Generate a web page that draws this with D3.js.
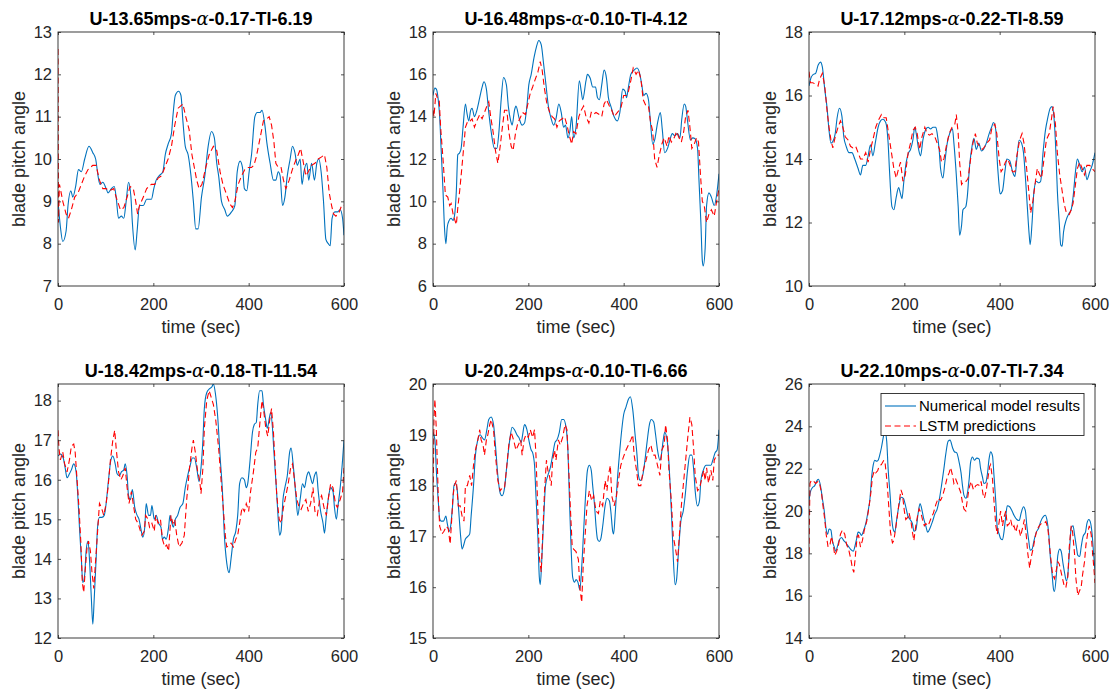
<!DOCTYPE html>
<html>
<head>
<meta charset="utf-8">
<script src="https://cdn.jsdelivr.net/npm/d3@7"></script>
<style>
    body { margin: 0; background: #fff; }
    svg { display: block; font-family: "Liberation Sans", Arial, Helvetica, sans-serif; }
    .tick line { stroke: #262626; stroke-width: 0.8; }
    .tick text { fill: #262626; font-size: 16.5px; }
</style>
</head>
<body>
<div id="chart"></div>
<script>
// blade pitch angle traces, [time (sec), value]
const blue1 = [[0,9.0],[5,8.4],[10,8.05],[17,8.3],[21,8.9],[27,9.25],[31,9.1],[37,9.35],[43,9.75],[49,9.7],[56,10.0],[65,10.3],[73,10.15],[79,10.0],[84,9.6],[88,9.4],[94,9.45],[101,9.3],[105,9.2],[112,9.3],[118,9.35],[122,9.1],[127,8.6],[133,8.65],[138,8.6],[143,9.0],[148,9.45],[153,9.1],[156,8.5],[162,7.85],[166,8.3],[171,8.9],[179,8.9],[186,9.05],[196,9.05],[201,9.3],[206,9.5],[212,9.6],[220,9.7],[225,10.1],[231,10.35],[238,10.6],[241,11.0],[246,11.5],[253,11.6],[258,11.5],[262,10.9],[267,10.3],[273,10.1],[279,9.6],[284,9.0],[289,8.35],[294,8.35],[301,9.1],[308,9.6],[315,10.3],[322,10.65],[328,10.5],[333,9.9],[337,9.6],[343,9.0],[350,8.8],[355,8.65],[364,8.75],[371,8.9],[376,9.7],[382,9.95],[387,9.8],[391,9.3],[396,9.25],[401,9.7],[406,10.1],[413,11.0],[418,11.1],[424,11.1],[428,11.15],[434,10.8],[438,10.4],[445,9.9],[452,9.5],[457,9.5],[462,9.7],[466,9.6],[471,8.9],[476,9.1],[481,9.6],[487,10.0],[492,10.3],[497,10.15],[502,9.85],[508,10.0],[512,9.4],[516,9.7],[522,9.9],[526,9.5],[532,9.9],[538,9.5],[543,9.9],[547,10.0],[552,9.7],[557,9.0],[562,8.1],[567,8.0],[571,7.95],[575,8.6],[581,8.75],[586,8.75],[592,8.8],[597,8.6],[600,8.2]];
const red1 = [[0,12.6],[1,8.5],[3,9.4],[5,9.3],[10,9.0],[17,8.7],[22,8.6],[28,8.8],[35,9.1],[42,9.2],[49,9.4],[56,9.6],[63,9.75],[73,9.85],[80,9.85],[87,9.5],[94,9.3],[101,9.3],[108,9.25],[117,9.3],[122,9.1],[131,8.8],[138,8.85],[145,9.1],[151,9.35],[158,9.3],[163,9.0],[167,8.7],[171,8.9],[179,9.1],[186,9.3],[196,9.4],[203,9.4],[210,9.55],[217,9.6],[224,9.8],[231,10.0],[238,10.3],[245,10.8],[252,11.2],[262,11.3],[268,11.0],[275,10.7],[281,10.1],[291,9.5],[296,9.3],[302,9.4],[310,9.8],[317,10.1],[326,10.3],[333,10.2],[340,9.7],[346,9.4],[354,9.15],[360,8.95],[366,8.85],[371,9.0],[378,9.4],[385,9.6],[392,9.75],[399,9.8],[406,9.8],[411,9.85],[416,10.05],[424,10.5],[431,10.9],[438,10.95],[443,11.0],[448,10.8],[453,10.4],[457,9.9],[462,9.8],[468,9.8],[473,9.5],[478,9.3],[485,9.5],[493,9.8],[500,10.0],[504,10.1],[509,10.25],[515,9.9],[520,9.6],[525,9.7],[532,9.85],[539,9.9],[546,10.0],[553,10.05],[559,10.1],[564,9.8],[569,9.2],[574,8.9],[578,8.7],[583,8.65],[590,8.75],[595,8.9],[600,8.9]];

const blue2 = [[0,15.0],[4,15.35],[7,15.3],[11,14.8],[14,14.0],[17,12.5],[21,10.5],[24,8.8],[27,8.0],[30,8.8],[34,9.1],[38,9.2],[42,9.1],[45,9.3],[49,10.5],[52,12.2],[56,12.3],[59,12.5],[63,13.5],[68,14.6],[71,14.2],[75,13.8],[79,14.3],[82,14.4],[87,14.0],[92,14.3],[98,14.9],[103,15.4],[107,15.65],[112,15.3],[117,14.2],[122,13.3],[129,12.5],[134,12.5],[138,13.2],[143,14.8],[148,15.85],[154,15.5],[158,14.5],[163,13.8],[166,13.6],[171,14.3],[174,14.5],[181,13.9],[187,13.6],[192,13.7],[197,14.5],[201,15.5],[206,16.0],[212,16.8],[217,17.3],[222,17.6],[227,17.4],[232,16.5],[237,15.5],[242,14.5],[248,13.9],[253,13.6],[258,13.9],[264,14.6],[269,14.2],[274,13.5],[278,13.6],[283,13.0],[287,13.3],[291,14.0],[295,13.0],[300,13.5],[307,15.7],[311,15.2],[314,14.8],[321,15.7],[324,16.0],[330,15.8],[335,15.4],[341,15.4],[345,14.9],[349,14.8],[354,15.5],[359,16.2],[364,15.8],[368,14.9],[373,14.5],[380,14.0],[387,13.8],[392,14.2],[398,15.3],[403,15.2],[406,14.9],[410,15.4],[415,16.0],[422,16.2],[428,16.3],[434,16.0],[438,15.5],[442,15.0],[447,15.1],[452,14.8],[456,13.8],[461,12.7],[465,12.9],[471,13.7],[477,14.2],[481,13.4],[486,12.3],[492,12.5],[497,12.9],[502,13.2],[507,13.1],[513,13.2],[518,13.0],[522,13.9],[527,14.6],[530,14.5],[534,13.8],[540,12.9],[545,13.0],[550,12.95],[555,12.5],[558,11.0],[562,9.0],[565,7.2],[567,6.95],[571,7.8],[574,9.8],[579,10.4],[584,10.2],[590,9.8],[595,10.3],[600,11.3]];
const red2 = [[0,14.3],[2,14.0],[6,15.1],[9,14.9],[13,14.8],[16,13.5],[21,12.0],[26,10.3],[31,10.2],[35,9.8],[38,9.9],[43,9.3],[49,8.9],[52,9.7],[56,10.5],[61,11.7],[65,12.7],[68,13.5],[73,13.8],[78,13.8],[82,13.9],[87,13.5],[92,13.8],[98,14.1],[103,13.9],[108,14.2],[113,14.5],[117,14.7],[121,14.0],[126,13.3],[131,12.4],[136,11.8],[141,12.6],[145,13.4],[150,14.3],[155,14.3],[159,13.3],[164,12.6],[168,12.4],[173,13.2],[178,13.7],[184,14.0],[188,14.2],[194,14.1],[199,14.6],[204,15.1],[209,15.4],[215,15.8],[220,16.1],[225,16.6],[229,16.2],[234,15.3],[239,14.6],[245,14.2],[250,14.0],[255,13.9],[260,13.5],[265,13.8],[271,13.9],[276,14.0],[281,13.6],[286,13.1],[291,12.7],[295,13.3],[300,13.2],[306,14.0],[311,14.3],[316,14.5],[321,14.0],[327,13.7],[332,14.2],[336,14.1],[342,14.2],[349,14.1],[354,14.0],[359,14.6],[364,14.8],[370,14.5],[375,14.3],[380,14.0],[387,14.2],[394,14.4],[400,15.0],[405,15.0],[410,15.2],[415,15.7],[420,16.3],[426,16.0],[431,16.2],[436,15.8],[441,14.8],[447,14.5],[452,14.5],[456,13.8],[461,13.3],[465,12.0],[470,11.6],[474,12.1],[480,12.7],[485,13.0],[491,12.6],[495,13.1],[500,12.8],[506,13.0],[511,13.3],[516,13.0],[521,12.8],[526,13.3],[530,14.0],[535,14.3],[539,13.5],[543,12.5],[548,12.7],[553,13.0],[557,12.8],[561,11.3],[565,10.0],[569,9.8],[574,9.0],[579,9.4],[584,9.6],[590,9.3],[595,10.0],[600,10.6]];

const blue3 = [[0,16.3],[4,16.55],[8,16.65],[14,16.7],[19,16.95],[24,17.05],[28,16.9],[33,16.2],[38,15.6],[42,14.9],[46,14.5],[50,14.55],[55,14.8],[59,15.3],[64,15.6],[69,15.35],[73,14.7],[78,14.4],[84,14.2],[90,14.2],[96,14.0],[103,13.7],[108,13.5],[113,13.8],[119,13.8],[124,14.1],[129,14.45],[134,14.1],[139,14.5],[145,15.0],[150,15.2],[155,15.25],[161,15.15],[166,14.5],[169,13.6],[174,12.5],[178,12.4],[183,12.8],[188,13.1],[192,12.9],[195,12.75],[199,13.3],[204,13.9],[209,14.2],[213,14.3],[218,14.6],[222,15.0],[225,14.8],[230,14.3],[234,14.1],[239,14.6],[244,14.9],[250,15.0],[255,14.95],[260,15.0],[266,15.0],[269,14.8],[273,14.3],[276,13.7],[281,13.4],[285,13.9],[290,14.5],[295,14.8],[301,14.95],[304,14.5],[309,13.5],[313,12.5],[316,11.6],[320,11.9],[323,12.4],[329,12.5],[332,12.8],[337,13.8],[342,14.4],[346,14.65],[351,14.3],[356,14.5],[362,14.25],[366,14.3],[372,14.5],[378,14.8],[383,15.0],[387,15.15],[392,14.9],[394,14.2],[398,13.3],[401,12.9],[406,13.0],[411,13.6],[415,14.0],[421,13.95],[427,13.6],[432,13.45],[436,14.0],[441,14.6],[446,14.5],[450,14.2],[455,13.2],[458,12.5],[462,11.6],[464,11.3],[468,12.0],[472,13.0],[477,13.3],[482,13.25],[486,13.3],[491,14.2],[496,14.9],[501,15.3],[506,15.6],[510,15.65],[514,15.3],[518,14.2],[521,13.0],[525,12.0],[528,11.3],[531,11.25],[534,11.7],[540,12.1],[546,12.3],[550,12.4],[554,12.8],[559,13.6],[563,14.0],[568,13.8],[573,13.6],[578,13.75],[583,13.35],[589,13.6],[594,13.8],[600,14.2]];
const red3 = [[0,16.75],[3,16.4],[8,16.4],[15,16.35],[19,16.3],[22,16.5],[28,16.7],[33,16.3],[38,15.5],[42,15.0],[46,14.6],[50,14.35],[55,14.7],[61,15.0],[66,15.2],[71,15.0],[76,14.7],[82,14.6],[87,14.4],[92,14.35],[98,14.4],[103,14.2],[108,14.0],[113,14.0],[119,14.2],[124,13.9],[129,14.3],[134,14.6],[140,15.0],[145,15.2],[152,15.4],[157,15.3],[162,15.3],[167,14.8],[173,14.2],[178,13.7],[183,13.4],[188,13.7],[192,13.9],[197,13.3],[202,13.5],[208,14.2],[213,14.5],[218,14.9],[223,15.0],[227,14.8],[232,14.3],[237,14.7],[243,15.0],[248,14.8],[253,14.75],[258,14.8],[264,14.7],[269,14.5],[274,14.3],[278,13.9],[283,14.0],[288,14.4],[294,14.8],[300,15.0],[306,15.1],[309,15.4],[313,14.8],[316,13.9],[320,13.2],[325,13.3],[330,13.3],[334,13.4],[339,14.0],[344,14.5],[349,14.8],[353,14.5],[358,14.4],[364,14.3],[369,14.4],[373,14.5],[379,14.6],[384,15.0],[390,15.1],[394,14.8],[399,14.0],[403,13.6],[407,13.7],[412,13.9],[417,14.0],[422,13.8],[427,13.6],[432,13.6],[436,14.1],[442,14.6],[447,14.8],[451,14.5],[456,13.8],[461,13.0],[465,12.3],[470,12.7],[475,13.3],[479,13.7],[484,13.5],[488,13.4],[493,14.0],[498,14.6],[504,14.8],[509,15.3],[512,15.65],[517,15.1],[521,14.2],[526,13.5],[531,13.0],[535,12.6],[540,12.3],[546,12.25],[550,12.4],[554,12.6],[559,13.2],[563,13.7],[568,13.9],[573,13.7],[578,13.5],[583,13.8],[589,13.8],[594,13.7],[600,13.6]];

const blue4 = [[0,16.6],[5,16.65],[11,16.55],[15,16.3],[19,16.05],[24,16.15],[28,16.25],[33,16.4],[38,16.2],[42,15.5],[45,14.8],[49,14.0],[52,13.4],[56,13.6],[59,14.2],[63,14.45],[66,14.0],[70,13.0],[73,12.35],[76,13.0],[80,14.0],[83,14.8],[87,15.05],[92,15.05],[97,15.1],[101,15.4],[106,16.0],[111,16.5],[115,16.6],[120,16.4],[124,16.15],[129,16.1],[133,16.2],[138,16.25],[141,16.4],[145,16.1],[148,15.6],[152,15.5],[156,15.75],[161,15.3],[166,15.1],[170,15.0],[174,14.75],[178,14.55],[182,14.8],[185,15.4],[190,15.1],[194,15.1],[197,15.35],[202,15.0],[206,15.1],[211,14.9],[216,14.8],[219,14.5],[223,14.55],[227,14.5],[232,14.8],[235,15.1],[239,14.9],[242,14.8],[246,15.0],[251,15.1],[256,15.3],[262,15.4],[267,15.8],[272,16.1],[277,16.35],[282,16.55],[286,16.55],[291,16.3],[296,15.95],[300,16.3],[304,17.0],[307,17.8],[312,18.2],[318,18.3],[323,18.35],[326,18.42],[330,18.2],[335,17.6],[340,16.6],[345,15.7],[349,14.6],[354,13.9],[359,13.65],[363,14.0],[368,14.5],[373,14.7],[377,15.1],[381,15.9],[386,16.05],[391,16.0],[395,15.8],[398,15.9],[403,16.5],[408,17.2],[412,17.4],[416,17.45],[419,17.9],[423,18.25],[428,18.25],[431,17.9],[436,17.5],[439,17.3],[444,17.6],[446,17.7],[450,17.3],[453,16.7],[458,15.8],[461,15.2],[465,14.6],[468,14.7],[472,15.5],[476,15.8],[481,16.1],[486,16.7],[489,16.8],[494,16.3],[499,15.6],[503,15.1],[508,15.5],[513,15.9],[517,15.8],[522,16.1],[526,16.2],[529,16.1],[534,15.9],[538,16.1],[542,16.2],[546,15.7],[551,15.2],[556,14.9],[559,14.65],[563,15.1],[568,15.6],[572,15.8],[577,15.7],[580,15.3],[584,15.0],[587,15.3],[592,15.8],[597,16.5],[600,17.0]];
const red4 = [[0,17.25],[2,16.8],[5,16.5],[10,16.7],[14,16.4],[19,16.2],[24,16.5],[28,16.85],[33,16.9],[36,16.7],[40,16.0],[44,15.3],[48,14.4],[51,13.4],[54,13.15],[57,13.7],[61,14.3],[64,14.45],[68,14.2],[71,13.7],[75,13.25],[78,13.8],[82,14.5],[87,15.4],[91,15.3],[96,15.1],[101,15.4],[105,15.8],[110,16.5],[115,17.0],[119,17.25],[122,16.8],[127,16.2],[132,16.0],[136,16.1],[141,16.3],[145,15.8],[149,15.4],[154,15.7],[159,15.3],[163,15.0],[168,14.9],[173,14.7],[176,14.6],[181,14.7],[184,15.1],[189,15.0],[192,14.8],[197,14.9],[202,14.7],[205,15.1],[210,14.9],[215,15.0],[219,14.5],[224,14.3],[228,14.35],[232,14.2],[237,15.1],[241,14.9],[245,15.0],[249,14.6],[254,14.3],[260,14.4],[265,14.6],[270,15.5],[276,16.3],[281,16.8],[284,17.0],[288,16.7],[293,16.2],[297,16.0],[300,15.65],[304,16.3],[307,17.3],[312,18.0],[317,18.25],[321,18.1],[326,17.9],[331,17.5],[337,16.8],[342,16.0],[346,15.4],[351,14.6],[354,14.3],[359,14.35],[363,14.4],[368,14.3],[373,14.5],[377,14.6],[381,14.9],[386,15.3],[391,15.2],[395,15.4],[400,15.2],[404,15.7],[410,16.2],[415,16.7],[419,16.8],[424,17.5],[428,18.0],[431,17.8],[436,17.3],[440,17.1],[444,17.5],[448,17.8],[452,17.2],[455,16.5],[459,15.6],[464,15.0],[468,14.9],[473,15.3],[478,15.6],[483,15.9],[488,16.3],[492,16.4],[496,16.0],[501,15.5],[506,15.3],[510,15.25],[515,15.4],[520,15.5],[525,15.2],[530,15.4],[535,15.8],[539,15.2],[544,15.1],[549,15.5],[553,15.6],[558,15.3],[563,15.1],[568,15.6],[572,15.9],[577,15.8],[582,15.4],[586,15.3],[592,15.5],[597,15.7],[600,16.3]];

const blue5 = [[0,19.05],[4,18.9],[7,18.3],[11,17.7],[14,17.35],[17,17.3],[22,17.3],[27,17.4],[30,17.25],[34,17.1],[37,17.2],[41,17.6],[44,18.0],[47,18.05],[51,17.9],[54,17.5],[58,17.0],[61,16.75],[65,16.85],[68,16.95],[73,17.0],[77,17.05],[80,17.4],[85,18.0],[89,18.6],[94,18.9],[99,19.0],[103,18.95],[108,18.9],[113,19.1],[117,19.3],[122,19.35],[127,19.2],[131,18.8],[136,18.2],[141,17.85],[145,17.8],[150,17.95],[155,18.4],[161,18.9],[166,19.15],[171,19.1],[176,19.0],[180,18.95],[185,18.85],[188,19.0],[192,19.2],[197,19.1],[201,18.9],[206,18.7],[209,18.65],[213,18.4],[216,17.8],[220,17.0],[223,16.2],[225,16.05],[228,16.5],[232,17.3],[236,18.0],[241,18.2],[246,18.35],[251,18.6],[256,18.85],[260,18.9],[265,19.05],[270,19.3],[274,19.3],[279,19.15],[283,18.7],[286,17.8],[290,16.7],[293,16.2],[297,16.1],[300,16.15],[304,16.1],[308,15.95],[312,16.4],[316,17.1],[320,17.8],[324,18.3],[328,18.4],[332,18.3],[335,18.0],[339,17.6],[342,17.2],[345,16.95],[349,16.9],[352,16.95],[356,17.2],[361,17.6],[365,17.75],[370,17.7],[373,17.5],[377,17.1],[379,17.05],[382,17.4],[386,18.0],[391,18.6],[396,19.1],[400,19.4],[405,19.55],[410,19.7],[414,19.75],[419,19.5],[424,19.0],[428,18.6],[431,18.2],[435,18.1],[440,18.2],[444,18.45],[449,18.85],[454,19.2],[458,19.3],[463,19.25],[467,19.0],[471,18.7],[476,18.5],[479,18.6],[483,18.9],[486,19.05],[491,18.9],[494,18.6],[497,18.1],[501,17.3],[504,16.6],[508,16.05],[511,16.15],[515,16.7],[520,17.3],[525,17.5],[529,17.8],[534,18.3],[539,18.6],[543,18.6],[547,18.3],[550,17.9],[555,17.6],[559,17.7],[562,18.1],[567,18.3],[573,18.4],[578,18.4],[583,18.4],[587,18.5],[592,18.65],[596,18.7],[600,19.1]];
const red5 = [[0,17.5],[2,19.3],[4,19.7],[7,19.1],[11,17.8],[14,17.2],[19,17.05],[23,17.1],[28,17.2],[32,17.15],[36,16.85],[39,17.3],[42,17.8],[45,18.0],[49,18.1],[53,17.6],[57,17.6],[61,17.4],[65,17.3],[68,18.0],[72,18.0],[77,18.2],[81,18.0],[85,18.4],[89,18.7],[94,18.9],[98,19.1],[101,18.9],[105,18.8],[108,18.6],[112,18.9],[115,19.0],[119,19.2],[122,19.3],[127,19.1],[131,18.6],[136,18.1],[141,17.9],[145,17.95],[150,17.95],[155,18.4],[159,18.8],[164,19.05],[169,18.9],[174,18.7],[179,18.8],[184,18.9],[187,18.6],[191,18.9],[195,19.0],[200,18.95],[204,19.1],[209,18.95],[213,19.1],[216,18.6],[220,17.5],[223,16.6],[227,16.3],[230,17.0],[234,17.9],[238,18.5],[241,18.3],[244,18.2],[248,18.0],[251,18.5],[255,18.7],[258,18.5],[263,18.9],[267,18.8],[272,18.95],[277,19.2],[281,19.1],[284,18.5],[288,17.6],[292,16.8],[295,16.75],[300,16.7],[305,16.55],[308,16.0],[312,15.7],[315,16.4],[319,17.0],[323,17.6],[328,17.9],[333,17.7],[337,17.8],[342,17.5],[347,17.45],[351,17.7],[356,17.6],[361,18.1],[365,17.9],[368,18.2],[372,18.4],[375,17.8],[380,17.6],[385,17.8],[389,18.1],[394,18.4],[399,18.55],[405,18.7],[410,18.8],[415,18.9],[419,19.0],[422,18.6],[427,18.3],[431,18.0],[436,18.0],[441,18.3],[447,18.5],[452,18.7],[457,18.8],[462,18.6],[466,18.6],[471,18.4],[476,18.2],[480,18.7],[485,18.8],[488,19.2],[492,18.9],[495,18.3],[500,17.7],[504,17.0],[508,16.8],[513,16.5],[516,16.9],[521,17.6],[526,18.1],[530,18.5],[535,19.0],[539,19.35],[543,19.2],[547,18.7],[550,18.2],[555,17.9],[559,17.95],[563,18.1],[568,18.3],[571,18.1],[574,18.35],[578,18.05],[583,18.3],[587,18.1],[590,18.5],[595,18.6],[600,18.6]];

const blue6 = [[0,20.5],[3,20.9],[7,21.1],[12,21.2],[17,21.45],[20,21.5],[24,21.2],[28,20.6],[32,20.0],[35,19.3],[39,18.9],[42,19.15],[46,19.1],[49,18.6],[53,18.3],[56,18.1],[60,18.35],[63,18.6],[68,18.75],[73,18.6],[77,18.5],[82,18.35],[87,18.2],[93,18.1],[96,18.3],[100,18.7],[103,19.0],[107,18.95],[110,18.85],[115,19.1],[119,19.4],[124,20.0],[128,20.6],[131,21.5],[135,22.2],[138,22.4],[142,22.35],[145,22.4],[149,22.7],[152,23.0],[156,23.5],[159,23.8],[163,23.3],[166,22.0],[170,20.8],[173,19.8],[177,19.1],[180,19.0],[184,19.6],[189,20.3],[193,20.65],[198,20.6],[203,20.2],[207,19.8],[212,19.6],[217,19.4],[220,19.05],[224,19.1],[229,19.9],[233,20.35],[236,20.15],[240,19.7],[245,19.3],[249,19.0],[254,19.2],[259,19.5],[264,19.85],[269,20.1],[273,20.5],[278,21.2],[283,22.0],[287,22.7],[292,23.3],[296,23.35],[301,23.0],[305,22.8],[310,22.75],[315,22.3],[319,21.8],[322,21.2],[325,20.75],[329,20.6],[332,20.8],[336,21.5],[339,22.3],[343,22.55],[347,22.4],[352,22.5],[357,22.45],[360,22.0],[364,21.6],[367,21.3],[371,21.35],[374,21.7],[378,22.5],[381,22.8],[385,22.6],[388,21.7],[392,20.4],[395,19.2],[399,18.9],[402,18.7],[406,18.65],[409,19.0],[413,19.8],[416,20.25],[421,20.2],[426,20.0],[430,19.8],[436,19.6],[441,19.55],[445,19.9],[450,20.2],[454,20.0],[457,19.3],[461,18.6],[464,18.15],[468,18.2],[472,18.6],[477,19.0],[482,19.2],[486,19.5],[492,19.75],[496,19.8],[499,19.6],[503,18.9],[506,17.9],[510,17.0],[513,16.3],[515,16.2],[519,17.0],[522,17.9],[526,18.2],[529,18.1],[533,17.5],[536,17.1],[540,16.7],[543,17.0],[547,18.3],[550,19.2],[554,19.3],[557,18.9],[561,18.3],[564,17.9],[568,17.85],[571,18.3],[575,18.8],[580,19.0],[583,19.4],[587,19.6],[590,19.5],[594,18.9],[597,18.0],[600,17.2]];
const red6 = [[0,18.0],[2,21.3],[5,21.45],[10,21.4],[14,21.3],[19,21.4],[22,21.3],[26,20.9],[29,20.3],[33,19.6],[36,18.9],[40,18.3],[44,18.4],[47,18.8],[51,18.4],[54,17.9],[58,18.1],[61,18.3],[66,18.9],[70,19.1],[75,18.9],[79,18.4],[83,18.2],[88,17.7],[91,17.3],[94,17.1],[97,17.8],[101,18.8],[104,18.85],[108,18.3],[112,18.6],[116,19.1],[121,19.5],[126,20.2],[130,20.9],[133,21.6],[137,21.9],[140,21.8],[144,21.9],[147,22.1],[152,22.2],[157,22.4],[160,22.2],[164,21.3],[168,20.0],[171,19.0],[175,18.5],[178,18.6],[182,19.2],[185,19.7],[189,20.4],[193,21.0],[196,20.8],[200,20.0],[203,19.6],[207,19.7],[210,19.9],[214,19.5],[217,19.0],[220,18.6],[224,19.3],[228,19.8],[231,20.1],[235,19.9],[238,19.6],[242,19.3],[245,19.4],[250,19.3],[255,19.6],[261,19.9],[266,20.3],[271,20.6],[276,20.5],[280,20.7],[285,21.1],[290,21.6],[294,21.8],[297,22.05],[301,21.7],[304,21.3],[308,21.5],[313,21.2],[318,20.9],[322,20.4],[325,20.1],[329,20.0],[332,20.5],[336,21.1],[340,21.4],[345,21.0],[350,21.2],[354,21.25],[358,21.2],[361,21.4],[365,20.8],[368,20.6],[372,21.0],[375,21.5],[379,22.1],[381,22.2],[385,21.5],[388,20.5],[392,19.3],[395,18.9],[399,19.5],[402,20.0],[406,19.3],[409,19.7],[413,20.0],[416,19.3],[420,19.4],[423,19.6],[427,19.2],[430,19.3],[434,19.0],[437,19.3],[441,19.1],[444,18.8],[449,19.3],[452,19.6],[456,18.8],[459,18.0],[463,17.3],[466,17.8],[470,18.2],[474,18.7],[478,19.1],[483,19.3],[487,19.4],[492,19.4],[497,19.5],[501,19.2],[504,18.5],[508,17.6],[511,17.0],[515,16.8],[518,17.1],[522,17.6],[525,17.5],[529,17.1],[532,16.8],[536,16.4],[539,16.4],[543,16.9],[546,18.3],[550,19.3],[553,19.0],[557,18.0],[560,16.8],[564,16.0],[567,16.2],[571,16.4],[574,17.0],[578,17.6],[581,18.4],[585,19.0],[588,19.3],[592,18.9],[595,18.0],[598,17.2],[600,16.6]];

const titles = [
    'U-13.65mps-α-0.17-TI-6.19',
    'U-16.48mps-α-0.10-TI-4.12',
    'U-17.12mps-α-0.22-TI-8.59',
    'U-18.42mps-α-0.18-TI-11.54',
    'U-20.24mps-α-0.10-TI-6.66',
    'U-22.10mps-α-0.07-TI-7.34'
];
const yDomains = [[7, 13], [6, 18], [10, 18], [12, 18.42], [15, 20], [14, 26]];
const yTicks = [
    [7, 8, 9, 10, 11, 12, 13],
    [6, 8, 10, 12, 14, 16, 18],
    [10, 12, 14, 16, 18],
    [12, 13, 14, 15, 16, 17, 18],
    [15, 16, 17, 18, 19, 20],
    [14, 16, 18, 20, 22, 24, 26]
];
const xTicks = [0, 200, 400, 600];
const legendLabels = ['Numerical model results', 'LSTM predictions'];

const blueSeries = [blue1, blue2, blue3, blue4, blue5, blue6];
const redSeries = [red1, red2, red3, red4, red5, red6];

const BLUE = '#0072BD';
const RED = '#FF0000';
const AXIS = '#262626';

function drawChart() {
    const svg = d3.select('#chart').append('svg')
        .attr('width', 1113)
        .attr('height', 690);

    const colLeft = [58, 433, 809];
    const rowTop = [32, 384];
    const pw = 286, ph = 254;
    const fmt = d3.format('d');

    titles.forEach((title, i) => {
        const col = i % 3, row = Math.floor(i / 3);
        const g = svg.append('g')
            .attr('transform', `translate(${colLeft[col]},${rowTop[row]})`);

        const x = d3.scaleLinear().domain([0, 600]).range([0, pw]);
        const y = d3.scaleLinear().domain(yDomains[i]).range([ph, 0]);

        // clip so traces stay inside the box
        svg.append('clipPath').attr('id', `clip${i}`)
            .append('rect').attr('width', pw).attr('height', ph);

        const lines = g.append('g').attr('clip-path', `url(#clip${i})`);

        lines.append('path')
            .datum(blueSeries[i])
            .attr('fill', 'none')
            .attr('stroke', BLUE)
            .attr('stroke-width', 1.1)
            .attr('d', d3.line().x(d => x(d[0])).y(d => y(d[1])).curve(d3.curveMonotoneX));

        lines.append('path')
            .datum(redSeries[i])
            .attr('fill', 'none')
            .attr('stroke', RED)
            .attr('stroke-width', 1.1)
            .attr('stroke-dasharray', '6,3.5')
            .attr('d', d3.line().x(d => x(d[0])).y(d => y(d[1])));

        // axes, ticks pointing inward on all four sides
        g.append('g').attr('transform', `translate(0,${ph})`)
            .call(d3.axisBottom(x).tickValues(xTicks).tickFormat(fmt).tickSize(-3).tickPadding(12));
        g.append('g')
            .call(d3.axisTop(x).tickValues(xTicks).tickSize(-3).tickFormat(''));
        g.append('g')
            .call(d3.axisLeft(y).tickValues(yTicks[i]).tickFormat(fmt).tickSize(-3).tickPadding(6));
        g.append('g').attr('transform', `translate(${pw},0)`)
            .call(d3.axisRight(y).tickValues(yTicks[i]).tickSize(-3).tickFormat(''));
        g.selectAll('.domain').remove();

        g.append('rect')
            .attr('width', pw).attr('height', ph)
            .attr('fill', 'none')
            .attr('stroke', AXIS)
            .attr('stroke-width', 0.9);

        // title with TeX-style alpha
        const parts = title.split('α');
        const t = g.append('text')
            .attr('x', pw / 2).attr('y', -7.5)
            .attr('text-anchor', 'middle')
            .attr('font-size', '18px')
            .attr('font-weight', 'bold')
            .attr('fill', '#000');
        t.append('tspan').text(parts[0]);
        t.append('tspan')
            .attr('font-family', '"DejaVu Serif", serif')
            .attr('font-style', 'italic')
            .attr('font-weight', 'normal')
            .text('α');
        t.append('tspan').text(parts[1]);

        g.append('text')
            .attr('x', pw / 2).attr('y', ph + 47)
            .attr('text-anchor', 'middle')
            .attr('font-size', '18px')
            .attr('fill', AXIS)
            .text('time (sec)');

        g.append('text')
            .attr('transform', `translate(-33,${ph / 2}) rotate(-90)`)
            .attr('text-anchor', 'middle')
            .attr('font-size', '18px')
            .attr('fill', AXIS)
            .text('blade pitch angle');

        if (i === 5) {
            const lg = g.append('g').attr('transform', 'translate(72,9.5)');
            lg.append('rect')
                .attr('width', 203).attr('height', 42)
                .attr('fill', '#fff')
                .attr('stroke', AXIS)
                .attr('stroke-width', 0.9);
            legendLabels.forEach((lab, k) => {
                const yy = 12.5 + k * 20;
                lg.append('line')
                    .attr('x1', 4).attr('x2', 35)
                    .attr('y1', yy).attr('y2', yy)
                    .attr('stroke', k === 0 ? BLUE : RED)
                    .attr('stroke-width', 1.1)
                    .attr('stroke-dasharray', k === 0 ? null : '6,3.5');
                lg.append('text')
                    .attr('x', 38).attr('y', yy)
                    .attr('dy', '0.35em')
                    .attr('font-size', '15px')
                    .attr('fill', '#000')
                    .text(lab);
            });
        }
    });
}

drawChart();
</script>
</body>
</html>
